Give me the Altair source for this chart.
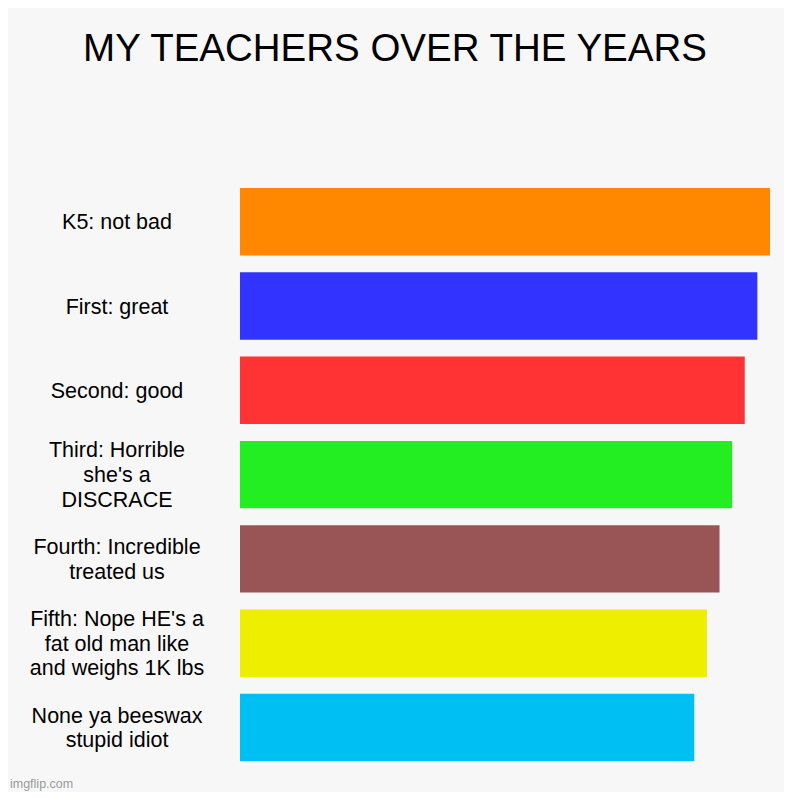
import altair as alt
import pandas as pd

title_text = "MY TEACHERS OVER THE YEARS"
watermark = "imgflip.com"
categories = [
    "K5: not bad",
    "First: great",
    "Second: good",
    "Third: Horrible she's a DISCRACE",
    "Fourth: Incredible treated us",
    "Fifth: Nope HE's a fat old man like and weighs 1K lbs",
    "None ya beeswax stupid idiot",
]
label_lines = [
    "K5: not bad",
    "First: great",
    "Second: good",
    "Third: Horrible\nshe's a\nDISCRACE",
    "Fourth: Incredible\ntreated us",
    "Fifth: Nope HE's a\nfat old man like\nand weighs 1K lbs",
    "None ya beeswax\nstupid idiot",
]
values = [42, 41, 40, 39, 38, 37, 36]
colors = ["#FF8800", "#3333FF", "#FF3333", "#22EE22", "#995555", "#EEEE00", "#00BFF3"]

df = pd.DataFrame({"cat": categories, "label": label_lines, "value": values})
df["nlines"] = df["label"].str.count("\n") + 1

FONT = "Liberation Sans"
LH = 24.8

y_enc = alt.Y("cat:N", sort=categories, axis=None,
              scale=alt.Scale(paddingInner=0.2, paddingOuter=0.1))

base = alt.Chart(df)

bars = base.mark_bar().encode(
    y=y_enc,
    x=alt.X("value:Q", axis=None, scale=alt.Scale(domain=[0, 42], nice=False)),
    color=alt.Color("cat:N", sort=categories,
                    scale=alt.Scale(domain=categories, range=colors), legend=None),
)

label_layers = []
for n in (1, 2, 3):
    label_layers.append(
        base.transform_filter(alt.datum.nlines == n).mark_text(
            align="center", baseline="middle", fontSize=21.5, lineHeight=LH,
            lineBreak="\n", font=FONT, color="#000000",
            dy=1.5 - (n - 1) * LH / 2,
        ).encode(
            y=y_enc,
            x=alt.value(-123),
            text="label:N",
        )
    )

title = alt.Chart(pd.DataFrame({"t": [title_text]})).mark_text(
    align="center", baseline="alphabetic", fontSize=38.5, font=FONT, color="#000000",
).encode(
    x=alt.value(155),
    y=alt.value(-119),
    text="t:N",
)

wm = alt.Chart(pd.DataFrame({"t": [watermark]})).mark_text(
    align="left", baseline="alphabetic", fontSize=12.5, font=FONT, color="#9a9a9a",
).encode(
    x=alt.value(-230),
    y=alt.value(608),
    text="t:N",
)

chart = alt.layer(bars, *label_layers, title, wm).properties(
    width=530,
    height=590,
    autosize=alt.AutoSizeParams(type="none"),
    padding={"left": 232, "top": 171.6, "right": 14, "bottom": 22},
    background="#F7F7F7",
).configure_view(stroke=None)

chart.save("out.html", embed_options={"renderer": "svg", "actions": False})
